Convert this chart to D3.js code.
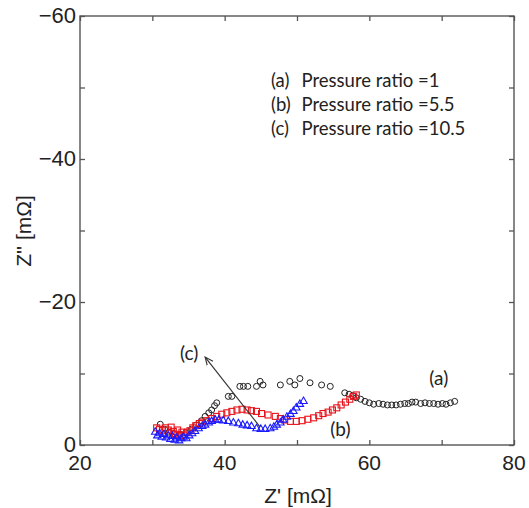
<!DOCTYPE html>
<html>
<head>
<meta charset="utf-8">
<script src="https://cdn.jsdelivr.net/npm/d3@7"></script>
<style>
  html, body { margin: 0; padding: 0; background: #fff; }
  svg { display: block; }
</style>
</head>
<body>
<svg id="chart" width="529" height="508"></svg>
<script>
// Nyquist plots: [Z', Z''] in mΩ
const seriesA = [
  [31.1,-2.9],[31.7,-2.2],[32.3,-1.8],[33.0,-1.6],[33.8,-1.5],[34.6,-1.7],[35.4,-2.2],
  [36.1,-2.8],[36.8,-3.4],[37.3,-4.0],[37.8,-4.5],[38.2,-4.9],[38.6,-5.5],[38.9,-5.9],
  [40.5,-6.8],[41.0,-6.8],[42.1,-8.2],[42.6,-8.2],[43.2,-8.2],[44.4,-8.2],[44.9,-8.9],
  [45.3,-8.4],[47.7,-8.4],[49.0,-8.9],[49.7,-8.4],[50.4,-9.3],[51.8,-8.7],[53.4,-8.4],
  [54.6,-8.2],[56.6,-7.3],[57.2,-7.1],[57.7,-6.9],[58.2,-6.6],[58.8,-6.4],[59.4,-6.1],
  [60.0,-5.9],[60.6,-5.7],[61.3,-5.8],[61.9,-5.7],[62.5,-5.6],[63.1,-5.6],[63.7,-5.6],
  [64.3,-5.7],[64.9,-5.8],[65.4,-5.8],[65.9,-6.0],[66.4,-6.0],[67.1,-5.8],[67.7,-5.9],
  [68.3,-5.8],[68.9,-5.8],[69.5,-5.7],[70.1,-5.8],[70.6,-5.7],[71.2,-5.9],[71.8,-6.1]
];
const seriesB = [
  [30.6,-2.4],[31.0,-2.2],[31.4,-2.0],[31.8,-2.4],[32.2,-2.1],[32.6,-2.5],[32.9,-1.9],
  [33.2,-1.5],[33.5,-2.1],[33.8,-1.3],[34.1,-1.8],[34.4,-1.4],[34.8,-1.8],[35.2,-2.0],
  [35.6,-2.4],[36.0,-2.7],[36.5,-3.0],[36.9,-3.2],[37.5,-3.4],[38.2,-3.7],[38.9,-4.0],
  [39.6,-4.3],[40.3,-4.5],[41.0,-4.7],[41.7,-4.9],[42.4,-5.0],[43.1,-4.9],[43.7,-4.8],
  [44.4,-4.7],[45.1,-4.4],[46.0,-4.2],[47.0,-4.0],[47.7,-3.7],[48.3,-3.5],[49.1,-3.3],
  [49.9,-3.3],[50.7,-3.4],[51.5,-3.6],[52.3,-3.8],[53.0,-4.1],[53.6,-4.4],[54.3,-4.6],
  [54.9,-4.9],[55.5,-5.2],[56.1,-5.6],[56.7,-6.0],[57.3,-6.4],[57.8,-6.8],[58.2,-7.0]
];
const seriesC = [
  [30.4,-1.8],[30.7,-1.3],[31.0,-1.6],[31.3,-1.1],[31.6,-1.5],[31.9,-1.0],[32.2,-1.3],
  [32.5,-0.8],[32.8,-1.2],[33.1,-0.7],[33.4,-1.0],[33.7,-0.6],[34.0,-0.9],[34.3,-1.1],
  [34.7,-0.9],[35.1,-1.3],[35.5,-1.6],[35.9,-1.9],[36.4,-2.3],[36.9,-2.6],[37.3,-2.8],
  [37.8,-3.1],[38.2,-3.3],[38.7,-3.5],[39.2,-3.5],[39.8,-3.4],[40.5,-3.3],[41.2,-3.1],
  [41.9,-3.0],[42.5,-2.8],[43.1,-2.7],[43.7,-2.6],[44.4,-2.3],[45.0,-2.2],[45.6,-2.2],
  [46.3,-2.3],[46.8,-2.5],[47.2,-2.8],[47.7,-3.1],[48.1,-3.5],[48.6,-3.9],[49.1,-4.3],
  [49.5,-4.7],[49.9,-5.2],[50.4,-5.7],[50.9,-6.1]
];

const xTicks = [20, 30, 40, 50, 60, 70, 80];
const xTickLabels = [20, 40, 60, 80];
const yTicks = [0, -10, -20, -30, -40, -50, -60];
const yTickLabels = [0, -20, -40, -60];
const legendKeys = ["(a)", "(b)", "(c)"];
const legendTexts = ["Pressure ratio =1", "Pressure ratio =5.5", "Pressure ratio =10.5"];
const curveLabels = [
  { text: "(a)", x: 69.6, y: -8.4 },
  { text: "(b)", x: 56.0, y: -1.3 },
  { text: "(c)", x: 35.1, y: -11.9 }
];
const arrowFrom = [44.9, -2.5];
const arrowTo = [37.3, -12.3];

const svg = d3.select("#chart");
const plotLeft = 80, plotRight = 514, plotTop = 16, plotBottom = 445;

const x = d3.scaleLinear().domain([20, 80]).range([plotLeft, plotRight]);
const y = d3.scaleLinear().domain([0, -60]).range([plotBottom, plotTop]);

const axisFont = "'Liberation Sans', Arial, sans-serif";
const textFont = "Lato, 'Open Sans', sans-serif";
const frameColor = "#555";
const inkColor = "#222";
const fmt = d => d < 0 ? "\u2212" + Math.abs(d) : String(d);

// inward ticks on all four sides
const tickLen = 5;
const gAxes = svg.append("g");
gAxes.append("g").attr("transform", `translate(0,${plotBottom})`)
  .call(d3.axisBottom(x).tickValues(xTicks).tickSize(-tickLen).tickFormat(""));
gAxes.append("g").attr("transform", `translate(0,${plotTop})`)
  .call(d3.axisTop(x).tickValues(xTicks).tickSize(-tickLen).tickFormat(""));
gAxes.append("g").attr("transform", `translate(${plotLeft},0)`)
  .call(d3.axisLeft(y).tickValues(yTicks).tickSize(-tickLen).tickFormat(""));
gAxes.append("g").attr("transform", `translate(${plotRight},0)`)
  .call(d3.axisRight(y).tickValues(yTicks).tickSize(-tickLen).tickFormat(""));
gAxes.selectAll(".domain").remove();
gAxes.selectAll(".tick line").attr("stroke", frameColor).attr("stroke-width", 1.3);

svg.append("rect")
  .attr("x", plotLeft).attr("y", plotTop)
  .attr("width", plotRight - plotLeft).attr("height", plotBottom - plotTop)
  .attr("fill", "none").attr("stroke", frameColor).attr("stroke-width", 1.4);

// tick labels (the y "0" and x "20" share the corner)
svg.append("g").selectAll("text").data(xTickLabels).join("text")
  .attr("x", d => x(d)).attr("y", 470)
  .attr("text-anchor", "middle")
  .attr("font-family", axisFont).attr("font-size", 21).attr("fill", inkColor)
  .text(fmt);
svg.append("g").selectAll("text").data(yTickLabels).join("text")
  .attr("x", 76).attr("y", d => y(d) + 7)
  .attr("text-anchor", "end")
  .attr("font-family", axisFont).attr("font-size", 22).attr("fill", inkColor)
  .text(fmt);

// axis titles
svg.append("text")
  .attr("x", 298).attr("y", 503)
  .attr("text-anchor", "middle")
  .attr("font-family", axisFont).attr("font-size", 21).attr("fill", inkColor)
  .text("Z' [m\u03A9]");
svg.append("text")
  .attr("transform", "translate(31,231) rotate(-90)")
  .attr("text-anchor", "middle")
  .attr("font-family", axisFont).attr("font-size", 21).attr("fill", inkColor)
  .text("Z'' [m\u03A9]");

// data markers, (a) first so the others sit above it in the overlap region
const plot = svg.append("g");
plot.append("g").selectAll("circle").data(seriesA).join("circle")
  .attr("cx", d => x(d[0])).attr("cy", d => y(d[1])).attr("r", 3)
  .attr("fill", "none").attr("stroke", "#222").attr("stroke-width", 1);

plot.append("g").selectAll("rect").data(seriesB).join("rect")
  .attr("x", d => x(d[0]) - 3).attr("y", d => y(d[1]) - 3)
  .attr("width", 6).attr("height", 6)
  .attr("fill", "none").attr("stroke", "#e8141c").attr("stroke-width", 1.1);

const tri = d3.symbol().type(d3.symbolTriangle).size(24);
plot.append("g").selectAll("path").data(seriesC).join("path")
  .attr("transform", d => `translate(${x(d[0])},${y(d[1])})`)
  .attr("d", tri)
  .attr("fill", "none").attr("stroke", "#1a1aff").attr("stroke-width", 1.1);

// arrow annotation
svg.append("defs").append("marker")
  .attr("id", "head").attr("viewBox", "0 0 10 10")
  .attr("refX", 9).attr("refY", 5)
  .attr("markerWidth", 9).attr("markerHeight", 9)
  .attr("markerUnits", "userSpaceOnUse")
  .attr("orient", "auto")
  .append("path").attr("d", "M0,1 L9,5 L0,9").attr("fill", "none")
  .attr("stroke", "#333").attr("stroke-width", 1.3);
svg.append("line")
  .attr("x1", x(arrowFrom[0])).attr("y1", y(arrowFrom[1]))
  .attr("x2", x(arrowTo[0])).attr("y2", y(arrowTo[1]))
  .attr("stroke", "#333").attr("stroke-width", 1.2)
  .attr("marker-end", "url(#head)");

// curve labels
svg.append("g").selectAll("text").data(curveLabels).join("text")
  .attr("x", d => x(d.x)).attr("y", d => y(d.y))
  .attr("text-anchor", "middle")
  .attr("font-family", textFont).attr("font-size", 19).attr("fill", inkColor)
  .text(d => d.text);

// legend text
const legend = svg.append("g")
  .attr("font-family", textFont).attr("font-size", 18.5).attr("fill", inkColor);
legend.selectAll("text.key").data(legendKeys).join("text")
  .attr("class", "key")
  .attr("x", 271).attr("y", (d, i) => 86.5 + i * 24.2)
  .text(d => d);
legend.selectAll("text.desc").data(legendTexts).join("text")
  .attr("class", "desc")
  .attr("x", 301.5).attr("y", (d, i) => 86.5 + i * 24.2)
  .text(d => d);
</script>
</body>
</html>
